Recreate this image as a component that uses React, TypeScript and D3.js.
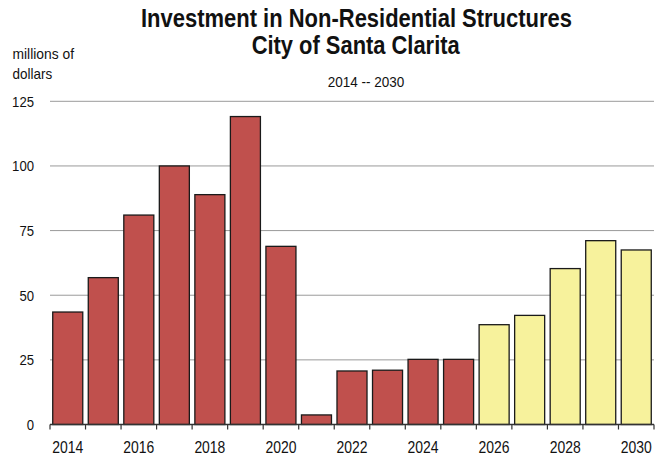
import React from "react";
import * as d3 from "d3";

const years = ["2014","2015","2016","2017","2018","2019","2020","2021","2022","2023","2024","2025","2026","2027","2028","2029","2030"];
const values = [43.5, 56.8, 81.0, 100.0, 88.9, 119.1, 68.9, 3.7, 20.7, 21.0, 25.2, 25.2, 38.6, 42.2, 60.3, 71.1, 67.5];
const forecastFrom = "2026";
const yTicks = [0, 25, 50, 75, 100, 125];
const xLabels = ["2014","2016","2018","2020","2022","2024","2026","2028","2030"];

const W = 663, H = 458;
const FONT = "'Liberation Sans', Arial, sans-serif";

function T(props: any) {
  const { len, children, ...rest } = props;
  return <text textLength={len} lengthAdjust="spacingAndGlyphs" {...rest}>{children}</text>;
}

export default function App() {
  const x = d3.scaleBand<string>().domain(years).range([50, 654]).paddingInner(0.155).paddingOuter(0.077);
  const band = d3.scaleBand<string>().domain(years).range([50, 654]);
  const y = d3.scaleLinear().domain([0, 125]).range([424.5, 101.3]);
  const fIdx = years.indexOf(forecastFrom);
  return (
    <svg width={W} height={H} style={{ position: "absolute", left: 0, top: 0 }} fontFamily={FONT} fill="#111">
      <rect width={W} height={H} fill="#fff" />
      <T x={141} y={27} len={431} fontSize={25.5} fontWeight="bold">Investment in Non-Residential Structures</T>
      <T x={251.7} y={53.5} len={208} fontSize={25.5} fontWeight="bold">City of Santa Clarita</T>
      <T x={327.7} y={87.3} len={76.6} fontSize={15.5}>2014 -- 2030</T>
      <T x={12.5} y={59} len={61.5} fontSize={15}>millions of</T>
      <T x={12.5} y={79} len={39.6} fontSize={15}>dollars</T>
      {yTicks.map(t => (
        <g key={t}>
          {t > 0 && <line x1={50} x2={654} y1={y(t)} y2={y(t)} stroke="#9a9a9a" strokeWidth={1} />}
          <T x={34} y={y(t) + 5.5} len={String(t).length * 7.3} textAnchor="end" fontSize={15}>{t}</T>
        </g>
      ))}
      {years.map((yr, i) => (
        <rect key={yr} x={x(yr)} y={y(values[i])} width={x.bandwidth()} height={y(0) - y(values[i])}
          fill={i >= fIdx ? "#F7F29C" : "#C0504D"} stroke="#1a1a1a" strokeWidth={1.3} />
      ))}
      <line x1={50} x2={654} y1={y(0)} y2={y(0)} stroke="#333" strokeWidth={1.5} />
      {years.concat(["end"]).map((yr, i) => {
        const px = i < years.length ? (band(yr) as number) : 654;
        return <line key={"t" + i} x1={px} x2={px} y1={y(0)} y2={y(0) + 5} stroke="#333" strokeWidth={1.2} />;
      })}
      {xLabels.map(l => (
        <T key={l} x={(band(l) as number) + band.bandwidth() / 2} y={452.7} len={31} textAnchor="middle" fontSize={16.5}>{l}</T>
      ))}
    </svg>
  );
}
